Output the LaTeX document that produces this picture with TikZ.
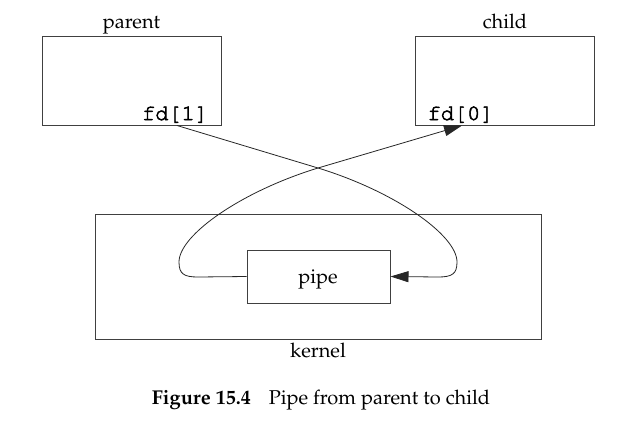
\documentclass[tikz,border=0pt]{standalone}
\usepackage[T1]{fontenc}
\renewcommand{\rmdefault}{ppl}
\renewcommand{\ttdefault}{pcr}
\usetikzlibrary{arrows.meta}
\newcommand{\heavytext}[1]{\special{pdf:code q 2 Tr 0.55 w}#1\special{pdf:code Q}}
\begin{document}
\begin{tikzpicture}[x=1pt,y=-1pt,
  box/.style={draw=black!75, line width=1pt, inner sep=0pt},
  lbl/.style={font=\fontsize{20}{24}\selectfont, inner sep=0pt, anchor=base},
  fdl/.style={font=\fontsize{22}{26}\selectfont\ttfamily, inner sep=0pt, anchor=base},
  conn/.style={line width=0.8pt, draw=black!85},
  tip/.style={-{Triangle[length=18pt,width=11pt]}}
]
\useasboundingbox (0,0) rectangle (639,423);
% boxes
\node[box, minimum width=179pt, minimum height=89pt] (parent) at (131.5,80.5) {};
\node[box, minimum width=179pt, minimum height=89pt] (child) at (505,80.5) {};
\node[box, minimum width=446pt, minimum height=125pt] (kernel) at (318,276.5) {};
\node[box, minimum width=143pt, minimum height=53pt] (pipe) at (318.5,276.5) {};
% labels
\node[lbl] (parentlbl) at (131.5,28) {parent};
\node[lbl] (childlbl) at (505,28) {child};
\node[lbl] (kernellbl) at (318,357) {kernel};
\node[lbl] (pipelbl) at (318,283) {pipe};
\node[fdl] (fdone) at (175,120) {\heavytext{fd[1]}};
\node[fdl] (fdzero) at (460.5,120) {\heavytext{fd[0]}};
\node[lbl] (caption) at (321,404) {\textbf{Figure 15.4}\hspace{0.9em}Pipe from parent to child};
% parent -> pipe
\draw[conn, tip] ([xshift=45.5pt]parent.south) -- (318,168)
  .. controls (394.5,191.4) and (457,235) .. (457,262)
  .. controls (457,274) and (452,277) .. (438,277) -- (pipe.east);
% pipe -> child
\draw[conn, tip] (pipe.west) -- (198,277)
  .. controls (184,277) and (179,274) .. (179,262)
  .. controls (179,235) and (241.5,191.4) .. (318,168)
  -- ([xshift=-43pt]child.south);
\end{tikzpicture}
\end{document}
